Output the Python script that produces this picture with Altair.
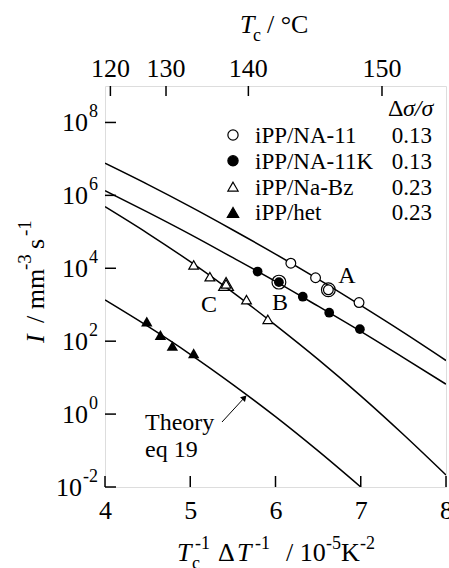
import altair as alt
import pandas as pd

FONT = "Liberation Serif"

# ---------------- data ----------------
# measured nucleation rates, x = Tc^-1 dT^-1 (10^-5 K^-2), log10 I (mm^-3 s^-1)
na11_x = [6.18, 6.47, 6.62, 6.98]
na11_logI = [4.14, 3.74, 3.41, 3.06]
na11k_x = [5.79, 6.04, 6.32, 6.63, 6.99]
na11k_logI = [3.91, 3.62, 3.22, 2.78, 2.33]
nabz_x = [5.04, 5.23, 5.42, 5.66, 5.91]
nabz_logI = [4.09, 3.77, 3.57, 3.14, 2.60]
het_x = [4.49, 4.65, 4.79, 5.04]
het_logI = [2.54, 2.17, 1.87, 1.67]

# specially marked samples
marked_labels = ["A", "B", "C"]
marked_x = [6.62, 6.04, 5.42]
marked_logI = [3.41, 3.62, 3.57]

# theory curves (eq 19)
curve_x = [4.0, 4.5, 5.0, 5.5, 6.0, 6.5, 7.0, 7.5, 8.0]
curve_na11 = [6.88, 6.30, 5.69, 5.05, 4.39, 3.70, 2.98, 2.24, 1.47]
curve_na11k = [6.13, 5.54, 4.93, 4.29, 3.64, 2.96, 2.27, 1.55, 0.82]
curve_nabz = [5.69, 4.96, 4.18, 3.34, 2.44, 1.50, 0.50, -0.56, -1.67]
curve_het_x = [4.0, 4.5, 5.0, 5.5, 6.0, 6.5, 7.0]
curve_het = [3.13, 2.41, 1.64, 0.81, -0.07, -1.01, -2.00]

legend_names = ["iPP/NA-11", "iPP/NA-11K", "iPP/Na-Bz", "iPP/het"]
legend_dsig = ["0.13", "0.13", "0.23", "0.23"]

x_ticks = [4, 5, 6, 7, 8]
y_exponents = [-2, 0, 2, 4, 6, 8]
tc_ticks = [120, 130, 140, 150]
Tm0 = 182.6  # equilibrium melting temperature used for the top axis (deg C)

# ---------------- tables ----------------
def pts(xs, ls):
    return pd.DataFrame({"x": xs, "I": [10 ** v for v in ls]})

rows = []
for name, xs, ls in [("na11", curve_x, curve_na11), ("na11k", curve_x, curve_na11k),
                     ("nabz", curve_x, curve_nabz), ("het", curve_het_x, curve_het)]:
    for a, b in zip(xs, ls):
        rows.append({"series": name, "x": a, "I": 10 ** b})
curves = pd.DataFrame(rows)

marked = pts(marked_x, marked_logI)
marked["label"] = marked_labels

ydf = pd.DataFrame({"I": [10.0 ** k for k in y_exponents], "exp": [str(k) for k in y_exponents]})
tcdf = pd.DataFrame({"tc": tc_ticks})
tcdf["x"] = 1e5 / ((tcdf["tc"] + 273.15) * (Tm0 - tcdf["tc"]))
tcdf["label"] = tcdf["tc"].astype(str)
xt = pd.DataFrame({"x": x_ticks})
one = pd.DataFrame({"a": [0]})

xs_ = alt.Scale(domain=[4, 8], nice=False, zero=False)
ys_ = alt.Scale(type="log", domain=[1e-2, 1e9], nice=False)
xaxis = alt.Axis(values=x_ticks, labelFontSize=26, labelFont=FONT, ticks=False, tickSize=0,
                 domain=False, grid=False, title="", labelPadding=31,
                 labelBaseline="alphabetic", labelFlush=False, labelOverlap=False,
                 labelColor="black", format="d")

def X(f="x"):
    return alt.X(f + ":Q", scale=xs_, axis=xaxis)

def Y(f="I"):
    return alt.Y(f + ":Q", scale=ys_, axis=None)

layers = []

# theory curves
layers.append(alt.Chart(curves).mark_line(color="black", strokeWidth=1.5, interpolate="monotone", clip=True)
              .encode(x=X(), y=Y(), detail="series:N"))

# rings for marked points
layers.append(alt.Chart(marked[marked["label"] != "C"]).mark_point(shape="circle", size=190, filled=False,
              stroke="black", strokeWidth=1.2, opacity=1).encode(x=X(), y=Y()))
layers.append(alt.Chart(marked[marked["label"] == "C"]).mark_point(shape="triangle-up", size=220, filled=False,
              stroke="black", strokeWidth=1.2, opacity=1).encode(x=X(), y=Y()))

# data markers
layers.append(alt.Chart(pts(na11_x, na11_logI)).mark_point(shape="circle", size=95, filled=True, fill="white",
              stroke="black", strokeWidth=1.2, opacity=1).encode(x=X(), y=Y()))
layers.append(alt.Chart(pts(na11k_x, na11k_logI)).mark_point(shape="circle", size=95, filled=True,
              color="black", opacity=1).encode(x=X(), y=Y()))
layers.append(alt.Chart(pts(nabz_x, nabz_logI)).mark_point(shape="triangle-up", size=95, filled=True, fill="white",
              stroke="black", strokeWidth=1.2, opacity=1).encode(x=X(), y=Y()))
layers.append(alt.Chart(pts(het_x, het_logI)).mark_point(shape="triangle-up", size=130, filled=True,
              color="black", opacity=1).encode(x=X(), y=Y()))

# ticks (inward)
layers.append(alt.Chart(xt).mark_rule(color="black", strokeWidth=1.5)
              .encode(x=X(), y=alt.value(401), y2=alt.value(390)))
layers.append(alt.Chart(ydf).mark_rule(color="black", strokeWidth=1.5)
              .encode(y=Y(), x=alt.value(0), x2=alt.value(11)))
layers.append(alt.Chart(tcdf).mark_rule(color="black", strokeWidth=1.5)
              .encode(x=X(), y=alt.value(0), y2=alt.value(10)))
layers.append(alt.Chart(tcdf).mark_text(font=FONT, fontSize=26, baseline="alphabetic", align="center", color="black")
              .encode(x=X(), y=alt.value(-9), text="label:N"))

# y tick labels 10^k
layers.append(alt.Chart(ydf[ydf["exp"] != "-2"]).mark_text(text="10", font=FONT, fontSize=26, align="right",
              baseline="alphabetic", dy=9, color="black").encode(y=Y(), x=alt.value(-17)))
layers.append(alt.Chart(ydf[ydf["exp"] == "-2"]).mark_text(text="10", font=FONT, fontSize=26, align="right",
              baseline="alphabetic", dy=9, color="black").encode(y=Y(), x=alt.value(-23)))
layers.append(alt.Chart(ydf).mark_text(font=FONT, fontSize=18, align="right", baseline="alphabetic", dy=-5,
              color="black").encode(y=Y(), x=alt.value(-7), text="exp:N"))


def txt(text, x, y, size=24, align="left", italic=False, angle=0, baseline="alphabetic"):
    return alt.Chart(one).mark_text(text=text, font=FONT, fontSize=size, align=align, baseline=baseline,
                                    fontStyle="italic" if italic else "normal", angle=angle,
                                    color="black").encode(x=alt.value(x), y=alt.value(y))

# top title  T_c / °C
layers += [txt("T", 135, -53, 26, italic=True), txt("c", 148, -45, 18), txt("/ °C", 162, -53, 26)]

# bottom title  T_c^-1 ΔT^-1 / 10^-5 K^-2
bb = 475
layers += [txt("T", 72, bb, 26, italic=True), txt("c", 87, bb + 8, 18), txt("-1", 90, bb - 12, 18),
           txt("Δ", 113, bb, 26), txt("T", 132, bb, 26, italic=True), txt("-1", 150, bb - 12, 18),
           txt("/ 10", 181, bb, 26), txt("-5", 221, bb - 12, 18), txt("K", 236, bb, 26),
           txt("-2", 255, bb - 12, 18)]

# y title  I / mm^-3 s^-1 (rotated)
bx = -61
layers += [txt("I", bx, 257, 26, italic=True, angle=270), txt("/ mm", bx, 237, 26, angle=270),
           txt("-3", bx - 13, 184, 19, angle=270), txt("s", bx, 163, 26, angle=270),
           txt("-1", bx - 13, 150, 19, angle=270)]

# annotations
layers += [txt("A", 242, 197, 24, align="center"), txt("B", 175, 224, 24, align="center"),
           txt("C", 104, 226, 24, align="center"), txt("Theory", 40, 344, 24), txt("eq 19", 40, 371, 24)]

# arrow to theory curve
layers.append(alt.Chart(one).mark_rule(color="black", strokeWidth=1)
              .encode(x=alt.value(117), y=alt.value(336), x2=alt.value(140), y2=alt.value(311)))
layers.append(alt.Chart(one).mark_point(shape="triangle-up", size=45, filled=True, color="black", angle=43,
              opacity=1).encode(x=alt.value(139.5), y=alt.value(311.5)))

# legend
layers += [txt("Δ", 283, 30, 24), txt("σ/σ", 298, 30, 24, italic=True)]
sym = [dict(shape="circle", fill="white"), dict(shape="circle", fill="black"),
       dict(shape="triangle-up", fill="white"), dict(shape="triangle-up", fill="black")]
for i, (nm, dv) in enumerate(zip(legend_names, legend_dsig)):
    yc = 49 + 25.8 * i
    s = sym[i]
    layers.append(alt.Chart(one).mark_point(shape=s["shape"], size=105 if i < 3 else 130, filled=True,
                  fill=s["fill"], stroke="black", strokeWidth=1.2, opacity=1)
                  .encode(x=alt.value(128), y=alt.value(yc)))
    layers.append(txt(nm, 150, yc + 8, 23))
    layers.append(txt(dv, 327, yc + 8, 23, align="right"))

chart = alt.layer(*layers).properties(
    width=341, height=401,
    autosize=alt.AutoSizeParams(type="none"),
    padding={"left": 105, "top": 86, "right": 3, "bottom": 81},
).configure_view(stroke="black", strokeWidth=1.6).configure(font=FONT)

chart.save("out.html", embed_options={"renderer": "svg", "actions": False})
